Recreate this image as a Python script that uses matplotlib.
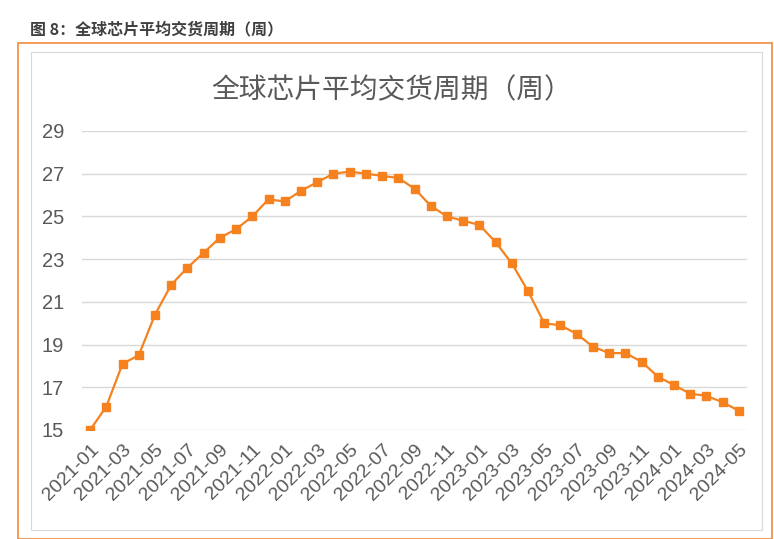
import matplotlib
matplotlib.use("Agg")
import matplotlib.pyplot as plt
from matplotlib.patches import Rectangle

plt.rcParams["font.family"] = ["Noto Sans CJK SC", "DejaVu Sans"]

# ─── data ────────────────────────────────────────────────────────────────────
months = [f"{y}-{m:02d}" for y in (2021, 2022, 2023) for m in range(1, 13)] + \
         [f"2024-{m:02d}" for m in range(1, 6)]
lead_weeks = [
    15.0, 16.1, 18.1, 18.5, 20.4, 21.8, 22.6, 23.3, 24.0, 24.4, 25.0, 25.8,
    25.7, 26.2, 26.6, 27.0, 27.1, 27.0, 26.9, 26.8, 26.3, 25.5, 25.0, 24.8,
    24.6, 23.8, 22.8, 21.5, 20.0, 19.9, 19.5, 18.9, 18.6, 18.6, 18.2, 17.5,
    17.1, 16.7, 16.6, 16.3, 15.9,
]
y_ticks = [15, 17, 19, 21, 23, 25, 27, 29]

ORANGE = "#F5821F"
GREY = "#595959"
NUM_FONT = ["Liberation Sans", "DejaVu Sans"]

fig = plt.figure(figsize=(7.74, 5.39), dpi=100)

# outer orange frame and inner grey chart frame
fig.patches.append(Rectangle((18 / 774, 0), 754 / 774, 1 - 43 / 539,
                             transform=fig.transFigure, fill=False,
                             edgecolor="#F08A3C", linewidth=1.2))
fig.patches.append(Rectangle((31 / 774, 1 - 530 / 539), 731 / 774, 478 / 539,
                             transform=fig.transFigure, fill=False,
                             edgecolor="#D9D9D9", linewidth=0.8))

fig.text(30 / 774, 1 - 29 / 539, "图 8：全球芯片平均交货周期（周）",
         fontsize=11.5, color="#404040", fontweight="bold", va="center")

ax = fig.add_axes([82 / 774, 1 - 430 / 539, 665 / 774, 299 / 539])
x = range(len(months))
ax.plot(x, lead_weeks, color=ORANGE, linewidth=1.6, marker="s",
        markersize=5.5, markerfacecolor=ORANGE, markeredgecolor=ORANGE)

ax.set_xlim(-0.5, len(months) - 0.5)
ax.set_ylim(15, 29)
ax.set_yticks(y_ticks)
ax.set_yticklabels([str(v) for v in y_ticks], fontsize=14.5, color=GREY,
                   family=NUM_FONT)
ax.set_xticks(list(x)[::2])
ax.set_xticklabels(months[::2], rotation=45, ha="right", rotation_mode="anchor",
                   fontsize=14, color=GREY, family=NUM_FONT)
ax.tick_params(axis="y", length=0, pad=13)
ax.tick_params(axis="x", length=0, pad=8)
ax.grid(axis="y", color="#D9D9D9", linewidth=1)
ax.set_axisbelow(True)
for s in ax.spines.values():
    s.set_visible(False)

fig.text(392 / 774, 1 - 90 / 539, "全球芯片平均交货周期（周）",
         fontsize=20, color=GREY, ha="center", va="center")

fig.savefig("out.png", dpi=100)
